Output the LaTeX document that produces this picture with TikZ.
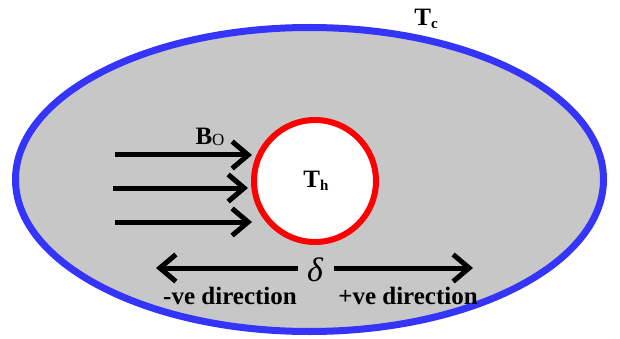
\documentclass[tikz,border=0pt]{standalone}
\usepackage{fontspec}
\setmainfont{Liberation Serif}
\usetikzlibrary{arrows.meta,shapes.geometric}
\definecolor{rimblue}{RGB}{52,52,250}
\tikzset{
  flux/.style={line width=5pt, -{Straight Barb[length=16pt,width=27pt,line width=5pt]}},
  lbl/.style={font=\bfseries\fontsize{25}{28}\selectfont, inner sep=0pt},
}
\begin{document}
\begin{tikzpicture}[x=1pt,y=-1pt]
\useasboundingbox (0,0) rectangle (620,339);
\node[draw=rimblue, line width=7pt, fill=black!22, ellipse, minimum width=588pt, minimum height=304pt, inner sep=0pt] (outer) at (309.5,179.5) {};
\node[draw=red, line width=6pt, fill=white, circle, minimum size=122pt, inner sep=0pt] (inner) at (315,181) {};
\node[lbl] (th) at (316,181) {T\raisebox{-3pt}{\fontsize{15}{17}\selectfont h}};
\node[lbl] (tc) at (426,19) {T\raisebox{-3pt}{\fontsize{15}{17}\selectfont c}};
\node[lbl] (bo) at (210,137) {B\raisebox{-1pt}{\fontsize{17}{19}\selectfont\mdseries O}};
\coordinate (a1) at (115,155);
\coordinate (a2) at (113,188);
\coordinate (a3) at (115,222);
\coordinate (t1) at (252,155);
\coordinate (t2) at (248,188);
\coordinate (t3) at (252,222);
\draw[flux] (a1) -- (t1);
\draw[flux] (a2) -- (t2);
\draw[flux] (a3) -- (t3);
\node[inner sep=0pt, font=\fontsize{34}{36}\selectfont\itshape] (delta) at (315,270) {δ};
\coordinate (dl) at (156,268);
\coordinate (dr) at (473,268);
\draw[flux] (298,268) -- (dl);
\draw[flux] (334,268) -- (dr);
\node[lbl] (neg) at (230,296) {-ve direction};
\node[lbl] (pos) at (408,296) {+ve direction};
\end{tikzpicture}
\end{document}
